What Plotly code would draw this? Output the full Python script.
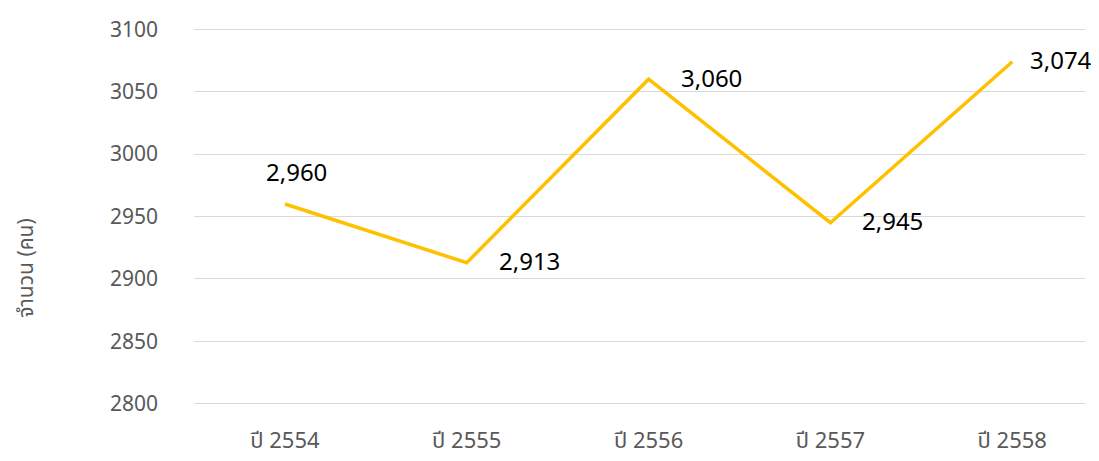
import plotly.graph_objects as go

years = ["ปี 2554", "ปี 2555", "ปี 2556", "ปี 2557", "ปี 2558"]
counts = [2960, 2913, 3060, 2945, 3074]
y_ticks = [2800, 2850, 2900, 2950, 3000, 3050, 3100]

font_family = "Noto Sans, Noto Sans Thai, Loma, sans-serif"

fig = go.Figure()
fig.add_trace(go.Scatter(
    x=years, y=counts, mode="lines",
    line=dict(color="#FFC000", width=3.5),
    hoverinfo="skip",
))

# data labels: first above the point, others to the right
for i, (yr, v) in enumerate(zip(years, counts)):
    if i == 0:
        fig.add_annotation(x=yr, y=v, text=f"{v:,}", showarrow=False,
                           xanchor="center", yanchor="bottom", xshift=12, yshift=14,
                           font=dict(size=24, color="#000000", family=font_family))
    else:
        fig.add_annotation(x=yr, y=v, text=f"{v:,}", showarrow=False,
                           xanchor="left", yanchor="middle",
                           xshift=16 if i == len(years) - 1 else 30, yshift=2,
                           font=dict(size=24, color="#000000", family=font_family))

fig.update_layout(
    width=1091, height=453,
    margin=dict(l=186, r=14, t=20, b=56),
    paper_bgcolor="white", plot_bgcolor="white",
    showlegend=False,
    font=dict(family=font_family, color="#595959", size=20),
)
fig.update_xaxes(
    type="category", range=[-0.5, 4.4], showgrid=False, showline=False, zeroline=False,
    tickfont=dict(size=22, color="#595959"), ticklabelstandoff=20, ticks="",
    automargin=False,
)
fig.update_yaxes(
    range=[2799, 3101], tickvals=y_ticks, ticktext=[str(v) for v in y_ticks],
    showgrid=True, gridcolor="#D9D9D9", gridwidth=1, zeroline=False, showline=False,
    tickfont=dict(size=21, color="#595959"), ticklabelstandoff=35, ticks="",
    automargin=False,
)
fig.add_annotation(
    text="จำนวน (คน)", textangle=-90, xref="paper", yref="paper",
    x=-0.19, y=0.363, xanchor="center", yanchor="middle", showarrow=False,
    font=dict(size=21, color="#595959", family=font_family),
)

fig.write_html("out.html")
